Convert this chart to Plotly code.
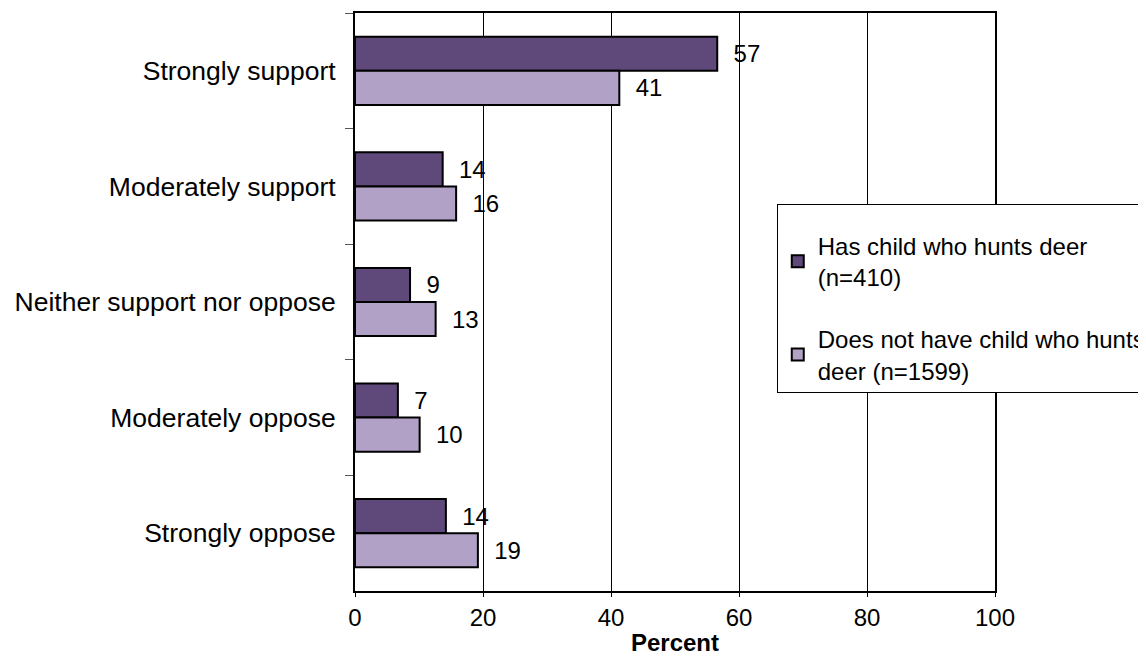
import plotly.graph_objects as go

categories = ["Strongly support", "Moderately support", "Neither support nor oppose",
              "Moderately oppose", "Strongly oppose"]
has_child = [56.6, 13.7, 8.6, 6.7, 14.2]
no_child = [41.3, 15.8, 12.6, 10.1, 19.2]
series_names = ["Has child who hunts deer<br>(n=410)",
                "Does not have child who hunts<br>deer (n=1599)"]
x_ticks = [0, 20, 40, 60, 80, 100]

FONT = "Liberation Sans, Arial, sans-serif"
FS = 24

fig = go.Figure()
for vals, name, color, grp in [(has_child, series_names[0], "#5F497A", "a"),
                               (no_child, series_names[1], "#B2A1C7", "b")]:
    fig.add_trace(go.Bar(
        y=categories, x=vals, orientation="h", name=name,
        legendgroup=grp,
        marker=dict(color=color, line=dict(color="black", width=2)),
        text=[f"  {round(v):d}" for v in vals],
        textposition="outside", cliponaxis=False,
        textfont=dict(family=FONT, size=FS, color="black"),
    ))

fig.update_layout(
    width=1146, height=666,
    margin=dict(l=347, r=157, t=3, b=83),
    paper_bgcolor="white", plot_bgcolor="white",
    barmode="group", bargap=0.41, bargroupgap=0,
    font=dict(family=FONT, size=FS, color="black"),
    legend=dict(x=0.659, y=0.669, xanchor="left", yanchor="top",
                bordercolor="black", borderwidth=1, bgcolor="white",
                traceorder="grouped", tracegroupgap=28,
                title=dict(text=" ", font=dict(size=14)),
                font=dict(family=FONT, size=FS, color="black")),
)
fig.update_xaxes(range=[0, 100], tickvals=x_ticks, showgrid=True, gridcolor="black",
                 gridwidth=1, showline=True, linecolor="black", linewidth=2, mirror=True,
                 ticks="outside", ticklen=4, tickcolor="black", zeroline=False,
                 tickfont=dict(family=FONT, size=FS, color="black"),
                 title=dict(text="<b>Percent</b>", standoff=4,
                            font=dict(family=FONT, size=FS, color="black")))
fig.update_yaxes(autorange="reversed", showline=True, linecolor="black", linewidth=2,
                 mirror=True, ticks="outside", tickson="boundaries", ticklen=8,
                 tickcolor="#555555", showgrid=False, ticklabelstandoff=12,
                 tickfont=dict(family=FONT, size=26.5, color="black"))

fig.write_html("out.html")
